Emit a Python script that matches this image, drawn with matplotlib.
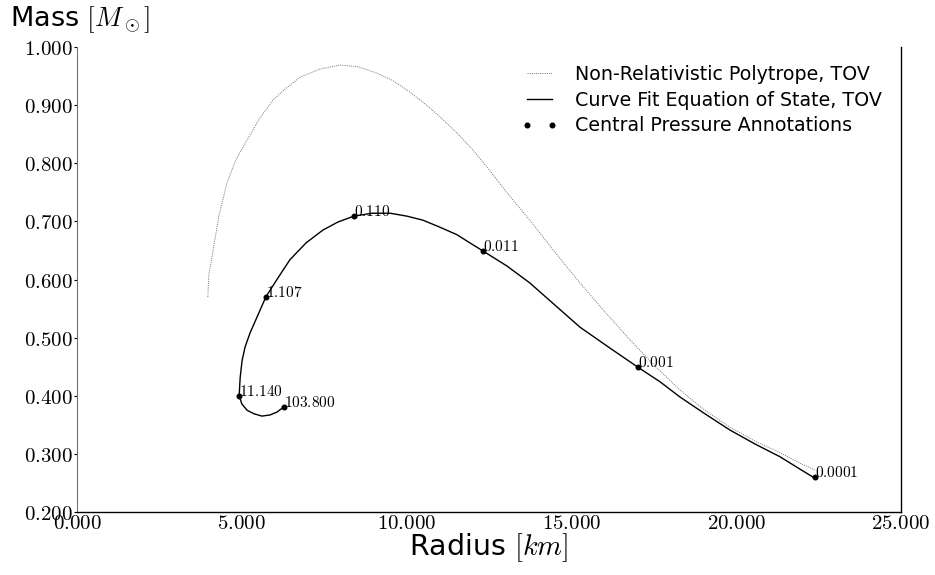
import matplotlib
matplotlib.use("Agg")
import matplotlib.pyplot as plt
from matplotlib.ticker import FuncFormatter, MultipleLocator

plt.rcParams['mathtext.fontset'] = 'cm'
plt.rcParams['font.family'] = ['DejaVu Sans']

# Curve fit EOS, TOV (radius km, mass Msun)
fit_r = [22.39, 21.87, 21.33, 20.57, 19.81, 19.05, 18.29, 17.69, 17.02, 16.17,
         15.26, 14.50, 13.74, 13.05, 12.32, 11.92, 11.53, 11.01, 10.50, 10.01,
         9.50, 8.95, 8.40, 7.92, 7.46, 6.95, 6.46, 6.10, 5.73, 5.49,
         5.25, 5.10, 5.01, 4.95, 4.92, 5.00, 5.16, 5.37, 5.61, 5.86, 6.07, 6.28]
fit_m = [0.258, 0.276, 0.295, 0.317, 0.341, 0.369, 0.398, 0.424, 0.449, 0.482,
         0.518, 0.556, 0.594, 0.623, 0.649, 0.663, 0.677, 0.690, 0.702, 0.709,
         0.714, 0.714, 0.709, 0.699, 0.685, 0.663, 0.634, 0.603, 0.570, 0.539,
         0.508, 0.484, 0.461, 0.431, 0.400, 0.386, 0.375, 0.369, 0.365, 0.367, 0.372, 0.381]

# Non-relativistic polytrope, TOV
poly_r = [3.97, 4.00, 4.13, 4.31, 4.55, 4.82, 5.16, 5.55, 5.95, 6.34,
          6.77, 7.37, 7.98, 8.53, 9.10, 9.56, 10.01, 10.50, 11.01, 11.53,
          12.01, 12.53, 13.05, 13.74, 14.50, 15.26, 16.02, 16.78, 17.54, 18.29,
          19.05, 19.81, 20.57, 21.33, 21.94, 22.39]
poly_m = [0.570, 0.608, 0.651, 0.711, 0.766, 0.806, 0.840, 0.878, 0.909, 0.929,
          0.948, 0.962, 0.969, 0.966, 0.955, 0.943, 0.926, 0.905, 0.880, 0.852,
          0.823, 0.787, 0.749, 0.702, 0.647, 0.594, 0.544, 0.496, 0.451, 0.410,
          0.375, 0.346, 0.322, 0.302, 0.284, 0.272]

# Central pressure annotations
ann_r = [22.39, 17.02, 12.32, 8.40, 5.73, 4.92, 6.28]
ann_m = [0.260, 0.449, 0.649, 0.709, 0.570, 0.400, 0.381]
ann_labels = ['0.0001', '0.001', '0.011', '0.110', '1.107', '11.140', '103.800']

fig = plt.figure(figsize=(9.35, 5.75), dpi=100)
ax = fig.add_axes([77/935, 1 - 512/575, 824/935, 465/575])

ax.plot(poly_r, poly_m, linestyle=(0, (1, 1.2)), color='0.45', linewidth=0.7,
        label='Non-Relativistic Polytrope, TOV')
ax.plot(fit_r, fit_m, '-', color='black', linewidth=1.0, solid_joinstyle='round',
        label='Curve Fit Equation of State, TOV')
ax.plot(ann_r, ann_m, 'o', color='black', markersize=3.3, linestyle='none',
        label='Central Pressure Annotations')
for r, m, t in zip(ann_r, ann_m, ann_labels):
    ax.annotate('$' + t + '$', xy=(r, m), xytext=(0, 0), textcoords='offset points',
                ha='left', va='baseline', fontsize=11)

ax.set_xlim(0, 25)
ax.set_ylim(0.2, 1.0)
ax.xaxis.set_major_locator(MultipleLocator(5))
ax.yaxis.set_major_locator(MultipleLocator(0.1))
fmt = FuncFormatter(lambda v, p: '$%.3f$' % v)
ax.xaxis.set_major_formatter(fmt)
ax.yaxis.set_major_formatter(fmt)
ax.tick_params(axis='both', labelsize=15, length=2, width=0.8, pad=1)
ax.tick_params(axis='x', length=0)

ax.spines['top'].set_visible(False)
ax.spines['left'].set_color('0.45')
for s in ['bottom', 'right']:
    ax.spines[s].set_color('black')
    ax.spines[s].set_linewidth(1.0)

leg = ax.legend(loc='upper right', frameon=False, fontsize=13.7, numpoints=2,
                handlelength=1.9, handletextpad=0.9, borderaxespad=0.3,
                labelspacing=0.35, bbox_to_anchor=(0.9926, 0.99))

fig.text(10/935, 1 - 20/575, r'Mass $[M_\odot]$', fontsize=19.5, va='center', ha='left')
fig.text(489/935, 1 - 548/575, r'Radius $[km]$', fontsize=20.5, va='center', ha='center')

fig.savefig('out.png', dpi=100)
